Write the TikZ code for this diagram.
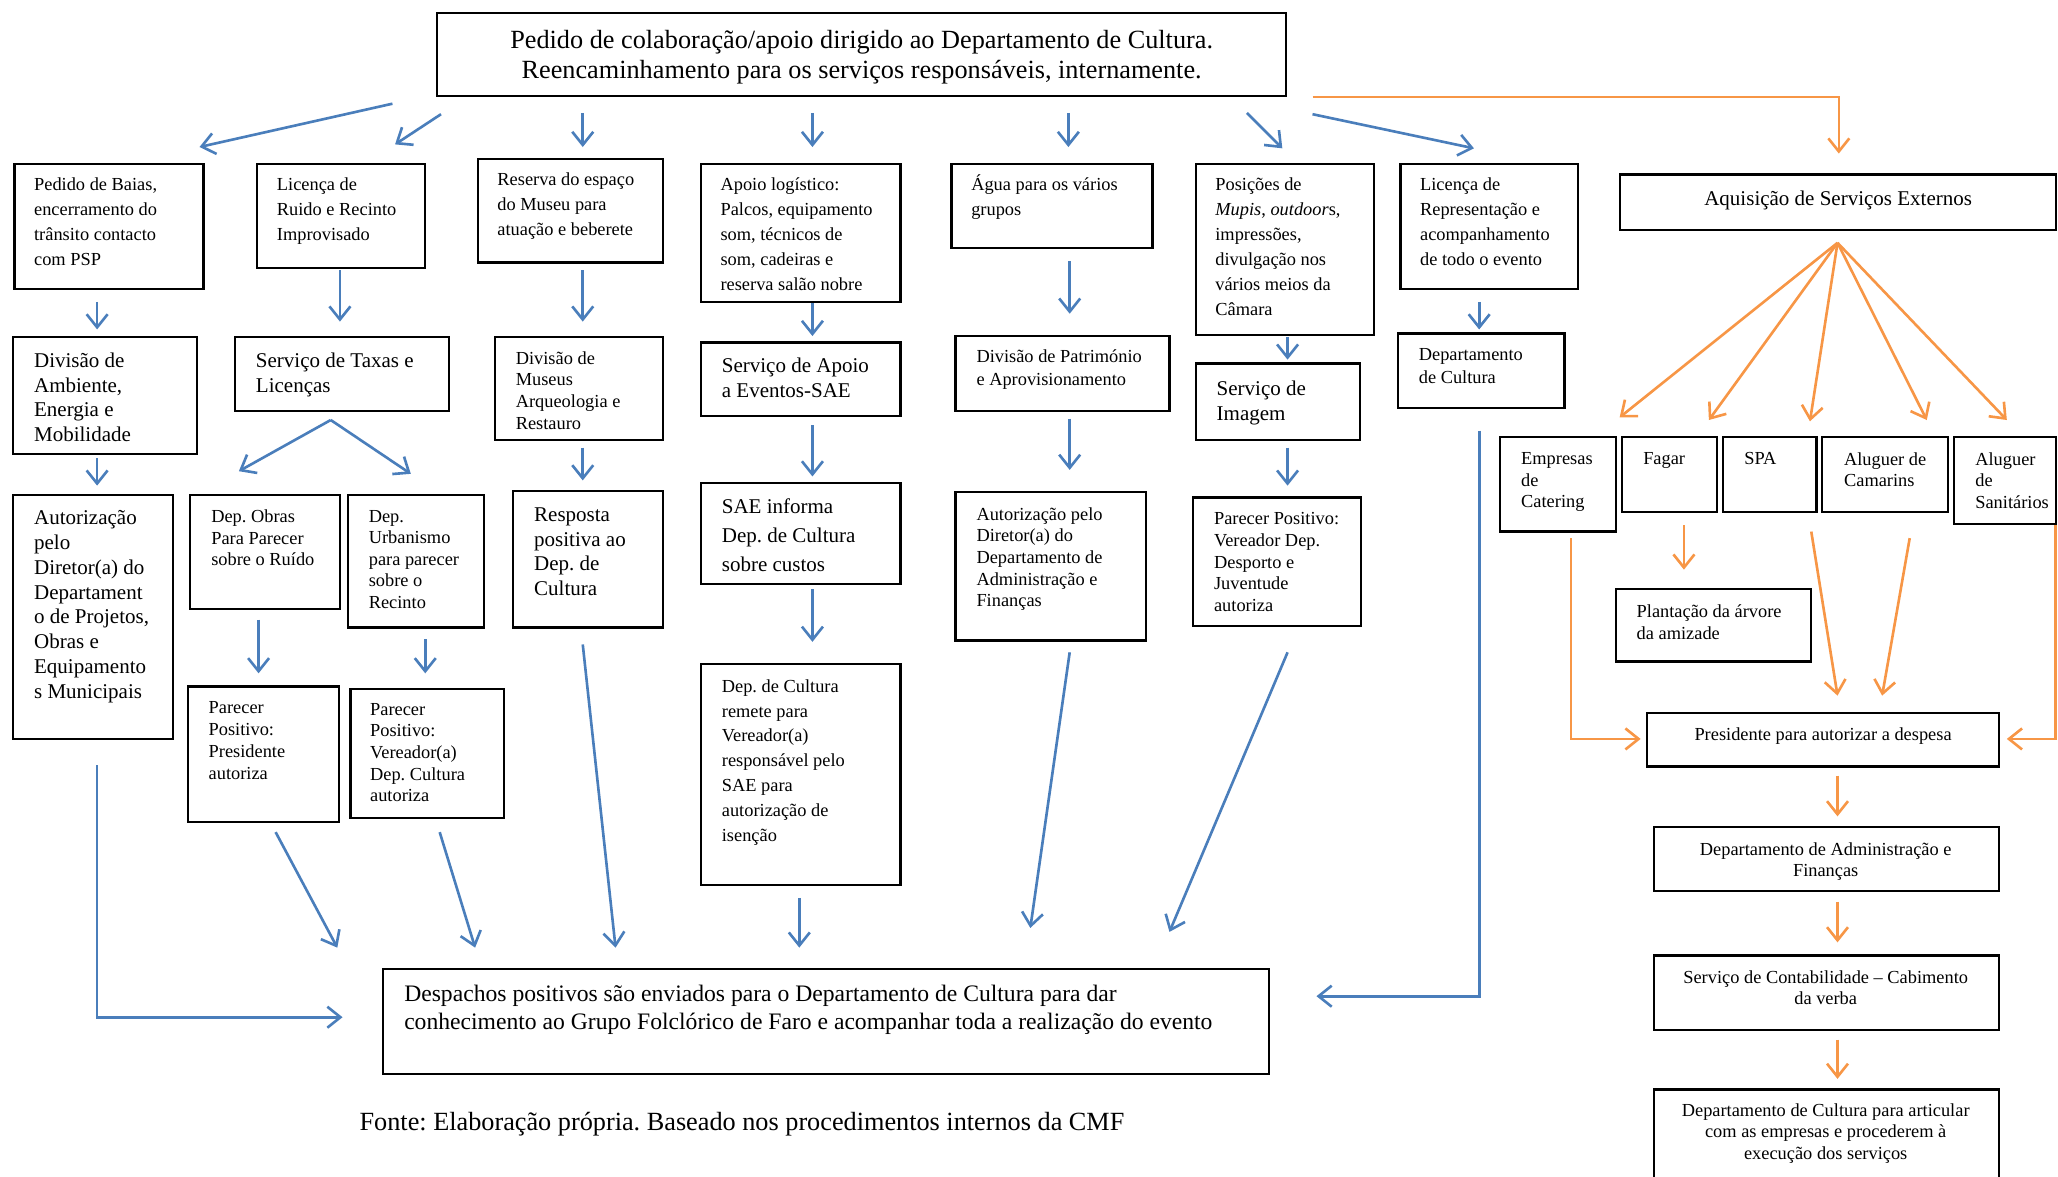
\documentclass[tikz,border=0pt]{standalone}
\usepackage{fontspec}
\setmainfont{Liberation Serif}
\usetikzlibrary{arrows.meta,fit,calc}
\definecolor{cblue}{HTML}{4A7EBB}
\definecolor{corange}{HTML}{F79646}
\frenchspacing
\begin{document}
\begin{tikzpicture}[x=0.5pt,y=-0.5pt,
  box/.style={draw=black, line width=0.85pt, inner sep=0pt, outer sep=0pt},
  tx/.style={inner sep=0pt, outer sep=0pt, align=left, anchor=north west},
  t7a/.style={tx, font=\fontsize{7}{9.5}\selectfont},
  t7b/.style={tx, font=\fontsize{7}{8.3}\selectfont},
  t8a/.style={tx, font=\fontsize{8}{9.4}\selectfont},
  t8c/.style={tx, font=\fontsize{8}{11}\selectfont},
  tc7/.style={inner sep=0pt, outer sep=0pt, align=center, anchor=north, font=\fontsize{7}{8.2}\selectfont},
  barrow/.style={draw=cblue, line width=1pt, -{Straight Barb[length=5pt,width=8pt]}},
  oarrow/.style={draw=corange, line width=1pt, -{Straight Barb[length=5pt,width=8pt]}}
]
\useasboundingbox (0,0) rectangle (1568,896);

% ---------- top box
\node[box, fit={(333,10) (980,73)}] (top) {};
\node[inner sep=0pt, align=center, anchor=north, font=\fontsize{10}{11.5}\selectfont] (topt) at (656.5,22.4)
  {Pedido de colaboração/apoio dirigido ao Departamento de Cultura.\\Reencaminhamento para os serviços responsáveis, internamente.};

% ---------- row 1
\node[box, fit={(11,125) (155,220)}] (b1) {};
\node[t7a] (b1t) at (26,135.7) {Pedido de Baias,\\encerramento do\\trânsito contacto\\com PSP};
\node[box, fit={(196,125) (324,204)}] (b2) {};
\node[t7a] (b2t) at (211,135.7) {Licença de\\Ruido e Recinto\\Improvisado};
\node[box, fit={(364,121) (505,200)}] (b3) {};
\node[t7a] (b3t) at (379,131.7) {Reserva do espaço\\do Museu para\\atuação e beberete};
\node[box, fit={(534,125) (686,230)}] (b4) {};
\node[t7a] (b4t) at (549,135.7) {Apoio logístico:\\Palcos, equipamento\\som, técnicos de\\som, cadeiras e\\reserva salão nobre};
\node[box, fit={(725,125) (878,189)}] (b5) {};
\node[t7a] (b5t) at (740,133) {Água para os vários\\grupos};
\node[box, fit={(911,125) (1047,255)}] (b6) {};
\node[t7a] (b6t) at (926,135.7) {Posições de\\\textit{Mupis}, \textit{outdoor}s,\\impressões,\\divulgação nos\\vários meios da\\Câmara};
\node[box, fit={(1067,125) (1202,220)}] (b7) {};
\node[t7a] (b7t) at (1082,135.7) {Licença de\\Representação e\\acompanhamento\\de todo o evento};
\node[box, fit={(1234,133) (1566.5,175)}] (aq) {};
\node[inner sep=0pt, anchor=north, font=\fontsize{8}{9.4}\selectfont] (aqt) at (1400.5,144.9) {Aquisição de Serviços Externos};

% ---------- row 2
\node[box, fit={(10,257) (150,346)}] (c1) {};
\node[t8a] (c1t) at (26,268.9) {Divisão de\\Ambiente,\\Energia e\\Mobilidade};
\node[box, fit={(179,257) (342,313)}] (c2) {};
\node[t8a, font=\fontsize{8}{9.5}\selectfont] (c2t) at (195,268.9) {Serviço de Taxas e\\Licenças};
\node[box, fit={(377,257) (505,335)}] (c3) {};
\node[t7b] (c3t) at (393,267.7) {Divisão de\\Museus\\Arqueologia e\\Restauro};
\node[box, fit={(534,261) (686,317)}] (c4) {};
\node[t8a, font=\fontsize{8}{9.5}\selectfont] (c4t) at (550,272.9) {Serviço de Apoio\\a Eventos-SAE};
\node[box, fit={(728,256) (891,313)}] (c5) {};
\node[t7b, font=\fontsize{7}{8.5}\selectfont] (c5t) at (744,266.7) {Divisão de Património\\e Aprovisionamento};
\node[box, fit={(911,277) (1036,335)}] (c6) {};
\node[t8a, font=\fontsize{8}{9.5}\selectfont] (c6t) at (927,289.9) {Serviço de\\Imagem};
\node[box, fit={(1065,254) (1192,311)}] (c7) {};
\node[t7b, font=\fontsize{7}{8.5}\selectfont] (c7t) at (1081,265.7) {Departamento\\de Cultura};

% ---------- row 3
\node[box, fit={(10,377) (132,563)}] (d1) {};
\node[t8a, font=\fontsize{8}{9.45}\selectfont] (d1t) at (26,388.9) {Autorização\\pelo\\Diretor(a) do\\Departament\\o de Projetos,\\Obras e\\Equipamento\\s Municipais};
\node[box, fit={(145,377) (259,464)}] (d2a) {};
\node[t7b, font=\fontsize{7}{8.2}\selectfont] (d2at) at (161,388.7) {Dep. Obras\\Para Parecer\\sobre o Ruído};
\node[box, fit={(265,377) (369,478)}] (d2b) {};
\node[t7b, font=\fontsize{7}{8.2}\selectfont] (d2bt) at (281,388.7) {Dep.\\Urbanismo\\para parecer\\sobre o\\Recinto};
\node[box, fit={(391,374) (505,478)}] (d3) {};
\node[t8a, font=\fontsize{8}{9.35}\selectfont] (d3t) at (407,386.9) {Resposta\\positiva ao\\Dep. de\\Cultura};
\node[box, fit={(534,368) (686,445)}] (d4) {};
\node[t8c] (d4t) at (550,379.9) {SAE informa\\Dep. de Cultura\\sobre custos};
\node[box, fit={(728,375) (873,488)}] (d5) {};
\node[t7b, font=\fontsize{7}{8.25}\selectfont] (d5t) at (744,386.7) {Autorização pelo\\Diretor(a) do\\Departamento de\\Administração e\\Finanças};
\node[box, fit={(909,379) (1037,477)}] (d6) {};
\node[t7b, font=\fontsize{7}{8.25}\selectfont] (d6t) at (925,390.7) {Parecer Positivo:\\Vereador Dep.\\Desporto e\\Juventude\\autoriza};

% ---------- row 4
\node[box, fit={(143,523) (258,626)}] (f2a) {};
\node[t7b] (f2at) at (159,534.7) {Parecer\\Positivo:\\Presidente\\autoriza};
\node[box, fit={(267,525) (384,623)}] (f2b) {};
\node[t7b, font=\fontsize{7}{8.25}\selectfont] (f2bt) at (282,535.7) {Parecer\\Positivo:\\Vereador(a)\\Dep. Cultura\\autoriza};
\node[box, fit={(534,506) (686,674)}] (f4) {};
\node[t7a, font=\fontsize{7}{9.45}\selectfont] (f4t) at (550,517.7) {Dep. de Cultura\\remete para\\Vereador(a)\\responsável pelo\\SAE para\\autorização de\\isenção};

% ---------- external services
\node[box, fit={(1143,333) (1231,405)}] (e1) {};
\node[t7b, font=\fontsize{7}{8.25}\selectfont] (e1t) at (1159,344.7) {Empresas\\de\\Catering};
\node[box, fit={(1236,333) (1308,390)}] (e2) {};
\node[t7b] (e2t) at (1252,344.7) {Fagar};
\node[box, fit={(1313,333) (1384,390)}] (e3) {};
\node[t7b] (e3t) at (1329,344.7) {SPA};
\node[box, fit={(1388,333) (1484,390)}] (e4) {};
\node[t7b, font=\fontsize{7}{8.25}\selectfont] (e4t) at (1405,344.7) {Aluguer de\\Camarins};
\node[box, fit={(1489,333) (1566.5,399)}] (e5) {};
\node[t7b, font=\fontsize{7}{8.25}\selectfont] (e5t) at (1505,344.7) {Aluguer\\de\\Sanitários};
\node[box, fit={(1231,449) (1380,504)}] (pl) {};
\node[t7b, font=\fontsize{7}{8.5}\selectfont] (plt) at (1247,460.7) {Plantação da árvore\\da amizade};
\node[box, fit={(1255,543) (1523,584)}] (pres) {};
\node[tc7] (prest) at (1389,554.7) {Presidente para autorizar a despesa};
\node[box, fit={(1260,630) (1523,679)}] (dafin) {};
\node[tc7, font=\fontsize{7}{8}\selectfont] (dafint) at (1391,641.7) {Departamento de Administração e\\Finanças};
\node[box, fit={(1260,728) (1523,785)}] (cont) {};
\node[tc7, font=\fontsize{7}{8}\selectfont] (contt) at (1391,739.7) {Serviço de Contabilidade – Cabimento\\da verba};
\node[box, fit={(1260,830) (1523,898)}] (fin) {};
\node[tc7, font=\fontsize{7}{8.25}\selectfont] (fint) at (1391,840.7) {Departamento de Cultura para articular\\com as empresas e procederem à\\execução dos serviços};

% ---------- bottom
\node[box, fit={(292,738) (967,818)}] (desp) {};
\node[tx, font=\fontsize{9}{11}\selectfont] (despt) at (308,750.2) {Despachos positivos são enviados para o Departamento de Cultura para dar\\conhecimento ao Grupo Folclórico de Faro e acompanhar toda a realização do evento};
\node[tx, font=\fontsize{10}{12}\selectfont] (fonte) at (274,847.4) {Fonte: Elaboração própria. Baseado nos procedimentos internos da CMF};

% ---------- coordinates for free connector ends
\coordinate (a1s) at (299,79);   \coordinate (a1e) at (152,112);
\coordinate (a2s) at (336,87);   \coordinate (a2e) at (301,110);
\coordinate (a3s) at (444,86);   \coordinate (a3e) at (444,112);
\coordinate (a4s) at (619,86);   \coordinate (a4e) at (619,112);
\coordinate (a5s) at (814,86);   \coordinate (a5e) at (814,112);
\coordinate (a6s) at (950,86);   \coordinate (a6e) at (977,113);
\coordinate (a7s) at (1000,87);  \coordinate (a7e) at (1123,113);
\coordinate (b1s) at (74,230);   \coordinate (b1e) at (74,251);
\coordinate (b2s) at (259,206);  \coordinate (b2e) at (259,245);
\coordinate (b3s) at (444,206);  \coordinate (b3e) at (444,245);
\coordinate (b4s) at (619,231);  \coordinate (b4e) at (619,256);
\coordinate (b5s) at (815,199);  \coordinate (b5e) at (815,239);
\coordinate (b6s) at (981,257);  \coordinate (b6e) at (981,274);
\coordinate (b7s) at (1127,230); \coordinate (b7e) at (1127,251);
\coordinate (c1s) at (74,349);   \coordinate (c1e) at (74,370);
\coordinate (c2s) at (252,320);  \coordinate (c2l) at (182,359); \coordinate (c2r) at (313,361);
\coordinate (c3s) at (444,341);  \coordinate (c3e) at (444,366);
\coordinate (c4s) at (619,324);  \coordinate (c4e) at (619,363);
\coordinate (c5s) at (815,319);  \coordinate (c5e) at (815,358);
\coordinate (c6s) at (981,341);  \coordinate (c6e) at (981,370);
\coordinate (d2as) at (197,472); \coordinate (d2ae) at (197,513);
\coordinate (d2bs) at (324,487); \coordinate (d2be) at (324,513);
\coordinate (d4s) at (619,449);  \coordinate (d4e) at (619,489);
\coordinate (e1s) at (74,583);   \coordinate (e1c) at (74,775);  \coordinate (e1e) at (261,775);
\coordinate (e2as) at (210,634); \coordinate (e2ae) at (257,722);
\coordinate (e2bs) at (335,634); \coordinate (e2be) at (362,722);
\coordinate (e3s) at (444,491);  \coordinate (e3e) at (469,722);
\coordinate (e4s) at (609,684);  \coordinate (e4e) at (609,722);
\coordinate (e5s) at (815,497);  \coordinate (e5e) at (785,707);
\coordinate (e6s) at (981,497);  \coordinate (e6e) at (891,710);
\coordinate (e7s) at (1127,328); \coordinate (e7c) at (1127,759); \coordinate (e7e) at (1003,759);
% orange
\coordinate (o0s) at (1000,74);  \coordinate (o0c) at (1401,74);  \coordinate (o0e) at (1401,117);
\coordinate (fan) at (1400,185);
\coordinate (f1) at (1234,318); \coordinate (f2) at (1302,320); \coordinate (f3) at (1379,321);
\coordinate (f4) at (1468,320); \coordinate (f5) at (1529,320);
\coordinate (g1s) at (1197,410); \coordinate (g1c) at (1197,563); \coordinate (g1e) at (1250,563);
\coordinate (g2s) at (1283,400); \coordinate (g2e) at (1283,434);
\coordinate (g3s) at (1380,405); \coordinate (g3e) at (1400,530);
\coordinate (g4s) at (1455,410); \coordinate (g4e) at (1434,530);
\coordinate (g5s) at (1566,400); \coordinate (g5c) at (1566,563); \coordinate (g5e) at (1529,563);
\coordinate (h1s) at (1400,591); \coordinate (h1e) at (1400,622);
\coordinate (h2s) at (1400,687); \coordinate (h2e) at (1400,718);
\coordinate (h3s) at (1400,792); \coordinate (h3e) at (1400,822);

% ---------- blue connectors
\foreach \p in {a1,a2,a3,a4,a5,a6,a7,b1,b2,b3,b4,b5,b6,b7,c1,c3,c4,c5,c6,d2a,d2b,d4,e2a,e2b,e3,e4,e5,e6}
  {\draw[barrow] (\p s) -- (\p e);}
\draw[barrow] (c2s) -- (c2l);
\draw[barrow] (c2s) -- (c2r);
\draw[barrow] (e1s) -- (e1c) -- (e1e);
\draw[barrow] (e7s) -- (e7c) -- (e7e);

% ---------- orange connectors
\draw[oarrow] (o0s) -- (o0c) -- (o0e);
\foreach \q in {f1,f2,f3,f4,f5} {\draw[oarrow] (fan) -- (\q);}
\draw[oarrow] (g1s) -- (g1c) -- (g1e);
\draw[oarrow] (g5s) -- (g5c) -- (g5e);
\foreach \p in {g2,g3,g4,h1,h2,h3} {\draw[oarrow] (\p s) -- (\p e);}
\end{tikzpicture}
\end{document}
